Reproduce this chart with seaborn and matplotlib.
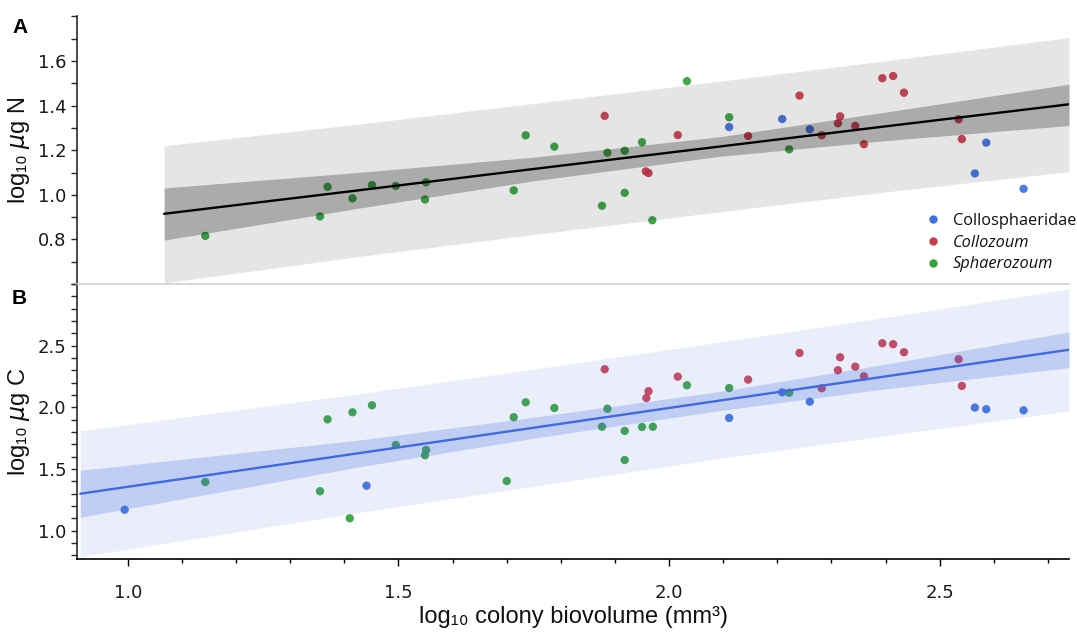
import numpy as np
import pandas as pd
import matplotlib
matplotlib.use('Agg')
import matplotlib.pyplot as plt
from matplotlib.ticker import FixedLocator, MultipleLocator, FormatStrFormatter
import seaborn as sns

# group codes -> names
names = {'P': 'Collosphaeridae', 'Z': 'Collozoum', 'S': 'Sphaerozoum'}
hue_order = ['Collosphaeridae', 'Collozoum', 'Sphaerozoum']
palette = {'Collosphaeridae': '#3d6fe0', 'Collozoum': '#cc3a4e', 'Sphaerozoum': '#32a23c'}

# Panel A: log10 ug N vs log10 colony biovolume
a_x = [1.143, 1.355, 1.369, 1.415, 1.451, 1.495, 1.551, 1.549, 1.713, 1.735, 1.788,
       1.881, 1.886, 1.918, 1.950, 2.016, 1.957, 1.962, 1.918, 1.876, 1.969, 2.033,
       2.111, 2.111, 2.146, 2.209, 2.222, 2.241, 2.260, 2.282, 2.312, 2.316, 2.344,
       2.360, 2.394, 2.414, 2.434, 2.535, 2.541, 2.586, 2.565, 2.655]
a_y = [0.816, 0.903, 1.036, 0.984, 1.044, 1.040, 1.056, 0.979, 1.020, 1.267, 1.216,
       1.354, 1.189, 1.198, 1.236, 1.268, 1.105, 1.098, 1.009, 0.951, 0.886, 1.510,
       1.348, 1.304, 1.264, 1.340, 1.204, 1.445, 1.294, 1.267, 1.321, 1.352, 1.309,
       1.227, 1.523, 1.533, 1.458, 1.339, 1.250, 1.234, 1.096, 1.027]
a_grp = list('SSSSSSSSSSS' 'Z' 'SSS' 'ZZZ' 'SSSSS' 'P' 'Z' 'P' 'S' 'Z' 'P' 'ZZZZZZZZZZ' 'PPP')

# Panel B: log10 ug C vs log10 colony biovolume
b_x = [0.994, 1.143, 1.355, 1.369, 1.415, 1.410, 1.451, 1.441, 1.495, 1.551, 1.549,
       1.700, 1.713, 1.735, 1.788, 1.881, 1.886, 1.876, 1.918, 1.918, 1.950, 1.970,
       1.958, 1.962, 2.016, 2.033, 2.111, 2.111, 2.146, 2.209, 2.222, 2.241, 2.260,
       2.282, 2.312, 2.316, 2.344, 2.360, 2.394, 2.414, 2.434, 2.535, 2.541, 2.565,
       2.586, 2.655]
b_y = [1.170, 1.395, 1.320, 1.903, 1.960, 1.101, 2.017, 1.365, 1.695, 1.655, 1.612,
       1.403, 1.920, 2.041, 1.995, 2.309, 1.989, 1.843, 1.809, 1.573, 1.841, 1.843,
       2.076, 2.131, 2.249, 2.179, 2.157, 1.914, 2.225, 2.122, 2.119, 2.441, 2.046,
       2.155, 2.301, 2.406, 2.330, 2.252, 2.520, 2.512, 2.447, 2.390, 2.174, 1.998,
       1.985, 1.976]
b_grp = list('P' 'SSSSSS' 'P' 'SSSSSSS' 'Z' 'SSSSSS' 'ZZZ' 'SS' 'P' 'Z' 'P' 'S' 'Z' 'P'
             'ZZZZZZZZZZ' 'PPP')

# fitted line, confidence band and prediction band
a_band_x = [1.067, 1.429, 1.75, 2.095, 2.40, 2.739]
a_fit = [0.915, 1.021, 1.116, 1.217, 1.307, 1.406]
a_ci_lo = [0.797, 0.941, 1.063, 1.173, 1.243, 1.311]
a_ci_hi = [1.031, 1.101, 1.169, 1.261, 1.371, 1.496]
a_pi_lo = [0.605, 0.724, 0.822, 0.924, 1.013, 1.104]
a_pi_hi = [1.220, 1.318, 1.410, 1.510, 1.601, 1.705]

b_band_x = [0.912, 1.429, 1.75, 2.095, 2.40, 2.739]
b_fit = [1.300, 1.630, 1.835, 2.056, 2.251, 2.467]
b_ci_lo = [1.109, 1.519, 1.750, 1.975, 2.150, 2.322]
b_ci_hi = [1.490, 1.736, 1.920, 2.130, 2.350, 2.612]
b_pi_lo = [0.789, 1.149, 1.360, 1.587, 1.770, 1.971]
b_pi_hi = [1.809, 2.111, 2.310, 2.530, 2.730, 2.960]

sns.set_style('ticks')
plt.rcParams['font.family'] = ['DejaVu Sans']
plt.rcParams['mathtext.fontset'] = 'dejavusans'

df_a = pd.DataFrame({'x': a_x, 'y': a_y, 'group': [names[g] for g in a_grp]})
df_b = pd.DataFrame({'x': b_x, 'y': b_y, 'group': [names[g] for g in b_grp]})

fig = plt.figure(figsize=(10.77, 6.32), dpi=100)
ax_b = fig.add_axes([0.0715, 0.1150, 0.9211, 0.4356])
ax_a = fig.add_axes([0.0715, 0.5506, 0.9211, 0.4241])
ax_b.set_facecolor('none')
ax_a.set_facecolor('none')

label_font = ['Liberation Sans', 'DejaVu Sans']
spine_col = '#2b2b2b'


def draw_panel(ax, df, bx, fit, ci_lo, ci_hi, pi_lo, pi_hi, band_col, a_pi, a_ci, line_col, legend):
    sns.scatterplot(data=df, x='x', y='y', hue='group', hue_order=hue_order, palette=palette,
                    s=36, alpha=0.92, edgecolor='none', linewidth=0, ax=ax, legend=legend, zorder=2)
    ax.fill_between(bx, pi_lo, pi_hi, color=band_col, alpha=a_pi, lw=0, zorder=3)
    ax.fill_between(bx, ci_lo, ci_hi, color=band_col, alpha=a_ci, lw=0, zorder=3)
    sns.lineplot(x=bx, y=fit, color=line_col, lw=1.7, ax=ax, zorder=4)
    ax.set_xlim(0.906, 2.739)
    for s in ['top', 'right']:
        ax.spines[s].set_visible(False)
    ax.spines['left'].set_color(spine_col)
    ax.spines['left'].set_linewidth(1.2)
    ax.tick_params(axis='y', which='major', length=4.5, width=1, color=spine_col,
                   labelsize=13, pad=3, labelcolor='#1a1a1a')
    ax.tick_params(axis='y', which='minor', length=4, width=1, color=spine_col)
    ax.yaxis.set_minor_locator(MultipleLocator(0.1))
    ax.yaxis.set_major_formatter(FormatStrFormatter('%.1f'))


draw_panel(ax_a, df_a, a_band_x, a_fit, a_ci_lo, a_ci_hi, a_pi_lo, a_pi_hi,
           'black', 0.10, 0.25, 'black', True)
draw_panel(ax_b, df_b, b_band_x, b_fit, b_ci_lo, b_ci_hi, b_pi_lo, b_pi_hi,
           'royalblue', 0.11, 0.24, 'royalblue', False)

# panel A axes
ax_a.set_ylim(0.6, 1.802)
ax_a.yaxis.set_major_locator(FixedLocator([0.8, 1.0, 1.2, 1.4, 1.6]))
ax_a.spines['bottom'].set_color('#cfcfcf')
ax_a.spines['bottom'].set_linewidth(1.2)
ax_a.tick_params(axis='x', which='both', bottom=False, labelbottom=False)
ax_a.set_xlabel('')
ax_a.set_ylabel(r'log₁₀ $\mu$g N', fontsize=17, family=label_font, color='#111111')
ax_a.yaxis.set_label_coords(-0.045, 0.5)

# panel B axes
ax_b.set_ylim(0.768, 3.0)
ax_b.yaxis.set_major_locator(FixedLocator([1.0, 1.5, 2.0, 2.5]))
ax_b.xaxis.set_major_locator(FixedLocator([1.0, 1.5, 2.0, 2.5]))
ax_b.xaxis.set_minor_locator(MultipleLocator(0.1))
ax_b.xaxis.set_major_formatter(FormatStrFormatter('%.1f'))
ax_b.spines['bottom'].set_color('black')
ax_b.spines['bottom'].set_linewidth(1.2)
ax_b.tick_params(axis='x', which='major', length=5, width=1, color='black',
                 labelsize=13, pad=13, labelcolor='#1a1a1a')
ax_b.tick_params(axis='x', which='minor', length=3, width=1, color='black')
ax_b.set_ylabel(r'log₁₀ $\mu$g C', fontsize=17, family=label_font, color='#111111')
ax_b.yaxis.set_label_coords(-0.045, 0.5)
ax_b.set_xlabel('log₁₀ colony biovolume (mm³)', fontsize=17, family=label_font, color='#111111')
ax_b.xaxis.set_label_coords(0.5, -0.168)

# legend
handles, labels = ax_a.get_legend_handles_labels()
leg = ax_a.legend(handles, labels, loc='center left', bbox_to_anchor=(925 / 1077, 1 - 242.7 / 632),
                  bbox_transform=fig.transFigure, frameon=False, borderpad=0, borderaxespad=0,
                  handlelength=1.0, handletextpad=0.7, labelspacing=0.35,
                  prop={'family': 'Open Sans', 'size': 11.8})
for i, t in enumerate(leg.get_texts()):
    t.set_color('#111111')
    if i > 0:
        t.set_fontstyle('italic')
for h in leg.legend_handles:
    h.set_alpha(1)

# panel letters
fig.text(12 / 1077, 1 - 33 / 632, 'A', fontsize=15, fontweight='bold', family=label_font, color='black')
fig.text(12 / 1077, 1 - 303.5 / 632, 'B', fontsize=15, fontweight='bold', family=label_font, color='black')

fig.savefig('out.png', dpi=100)
